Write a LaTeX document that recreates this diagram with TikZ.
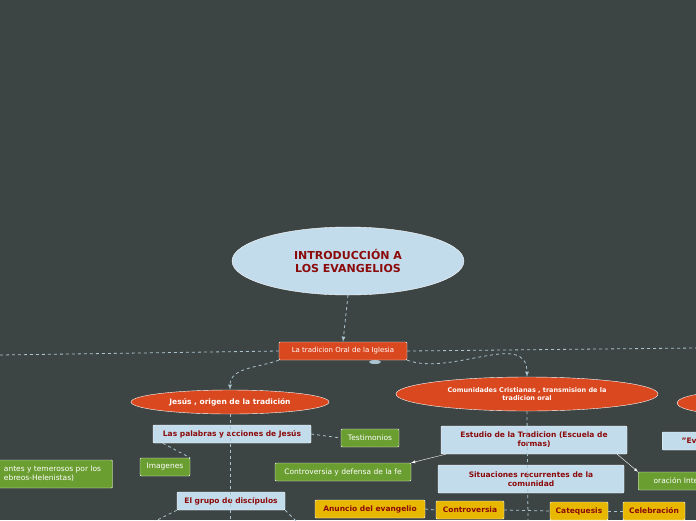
\documentclass[tikz,border=0pt]{standalone}
\usepackage{fontspec}
\setmainfont{DejaVu Sans}
\usetikzlibrary{shapes.geometric, arrows, positioning, calc}
\definecolor{bgc}{HTML}{3D4444}
\definecolor{redc}{HTML}{D9481F}
\definecolor{bluec}{HTML}{C3DCEC}
\definecolor{greenc}{HTML}{6A9E30}
\definecolor{yelc}{HTML}{E8B800}
\definecolor{textred}{HTML}{8B0A0A}
\definecolor{linec}{HTML}{A9C4CF}
\tikzset{
	>=latex,
	link/.style={dashed, linec, thick},
	topic/.style={ellipse, fill=redc, draw=white, text=white, font=\bfseries\fontsize{6.5}{7.5}\selectfont, align=center, inner sep=1pt},
	oralbox/.style={rectangle, rounded corners=1pt, fill=redc, draw=white, text=white, font=\fontsize{7}{8.5}\selectfont, minimum height=18pt},
	bluebox/.style={rectangle, rounded corners=1pt, fill=bluec, draw=white, text=textred, font=\bfseries\fontsize{7.5}{9}\selectfont, align=center, minimum height=18pt, inner sep=2pt},
	greenbox/.style={rectangle, rounded corners=1pt, fill=greenc, draw=white, text=white, font=\fontsize{7.5}{9}\selectfont, align=left, minimum height=18pt, inner sep=2pt},
	yelbox/.style={rectangle, rounded corners=1pt, fill=yelc, draw=white, text=textred, font=\bfseries\fontsize{7.5}{9}\selectfont, minimum height=18pt, inner sep=2pt}
}
\begin{document}
\begin{tikzpicture}[x=1pt, y=-1pt]
	% IMAGE SIZE
	\fill[bgc] (0,0) rectangle (696,520);
	\useasboundingbox (0,0) rectangle (696,520);
	\clip (0,0) rectangle (696,520);

	% Main nodes
	\node[ellipse, fill=bluec, draw=white, minimum width=232pt, minimum height=68pt, text=textred, font=\bfseries\fontsize{11}{13}\selectfont, align=center] (title) at (348,261) {INTRODUCCIÓN A\\ LOS EVANGELIOS};
	\node[oralbox, minimum width=128pt] (oral) at (343,351) {La tradicion Oral de la Iglesia};
	\node[topic, minimum width=198pt, minimum height=24pt, font=\bfseries\fontsize{7.5}{9}\selectfont] (jesus) at (230,402) {Jesús , origen de la tradición};
	\node[topic, minimum width=262pt, minimum height=34pt] (comun) at (527,394) {Comunidades Cristianas , transmision de la\\ tradicion oral};
	\node[topic, minimum width=130pt, minimum height=24pt] (other) at (742,403) {};

	% Left branch
	\node[bluebox, minimum width=158pt] (palabras) at (232,434) {Las palabras y acciones de Jesús};
	\node[greenbox, minimum width=58pt] (testi1) at (370,438) {Testimonios};
	\node[greenbox, minimum width=50pt] (imag) at (165,467) {Imagenes};
	\node[greenbox, minimum width=165pt, minimum height=28pt] (judios) at (30,474) {\hspace*{45pt}antes y temerosos por los\\ \hspace*{45pt}ebreos-Helenistas)};
	\node[bluebox, minimum width=108pt] (discip) at (231,501) {El grupo de discípulos};

	% Right branch
	\node[bluebox, minimum width=186pt, minimum height=28pt] (estudio) at (534,440) {Estudio de la Tradicion (Escuela de\\ formas)};
	\node[bluebox, minimum width=186pt, minimum height=28pt] (situa) at (531,479) {Situaciones recurrentes de la\\ comunidad};
	\node[greenbox, minimum width=136pt] (defensa) at (343,472) {Controversia y defensa de la fe};
	\node[greenbox, minimum width=90pt, anchor=west] (oracion) at (638,481) {oración Integral};
	\node[bluebox, minimum width=90pt, anchor=west] (evang) at (662,441) {"Evangelio"};
	\node[yelbox, minimum width=110pt] (anuncio) at (370,509) {Anuncio del evangelio};
	\node[yelbox, minimum width=68pt] (contro) at (470,510) {Controversia};
	\node[yelbox, minimum width=58pt] (cateq) at (579,511) {Catequesis};
	\node[yelbox, minimum width=62pt] (celeb) at (654,511) {Celebración};

	% Connectors
	\coordinate (leftend) at (0,355);
	\coordinate (rightend) at (696,348);
	\coordinate (jdown) at (230,520);
	\coordinate (cdown) at (528,520);
	\begin{scope}[on background layer/.try]
	\draw[link] (oral.west) -- (leftend);
	\draw[link] (oral.east) -- (rightend);
	\draw[link] (jesus.south) -- (jdown);
	\draw[link] (comun.south) -- (cdown);
	\draw[link] (discip.south west) -- ++(-30,15);
	\draw[link] (discip.south east) -- ++(15,15);
	\end{scope}
	\draw[link, ->] (title.south) -- (oral.north);
	\draw[link, ->] (oral.south west) to[out=200, in=90] (jesus.north);
	\draw[link, ->] (oral.south east) to[out=-20, in=90] (comun.north);
	\draw[link] (palabras.east) -- (testi1.west);
	\draw[link] (palabras.south west) ++(10,0) -- (imag.north east);
	\draw[white, ->] (estudio.south west) ++(5,0) -- (defensa.north east);
	\draw[white, ->] (estudio.south east) ++(-10,0) -- (oracion.north west);
	\draw[link] (anuncio.east) -- (contro.west);
	\draw[link] (contro.east) -- (cateq.west);
	\draw[link] (cateq.east) -- (celeb.west);
	\fill[linec] (375,362) ellipse (6pt and 2pt);
\end{tikzpicture}
\end{document}
